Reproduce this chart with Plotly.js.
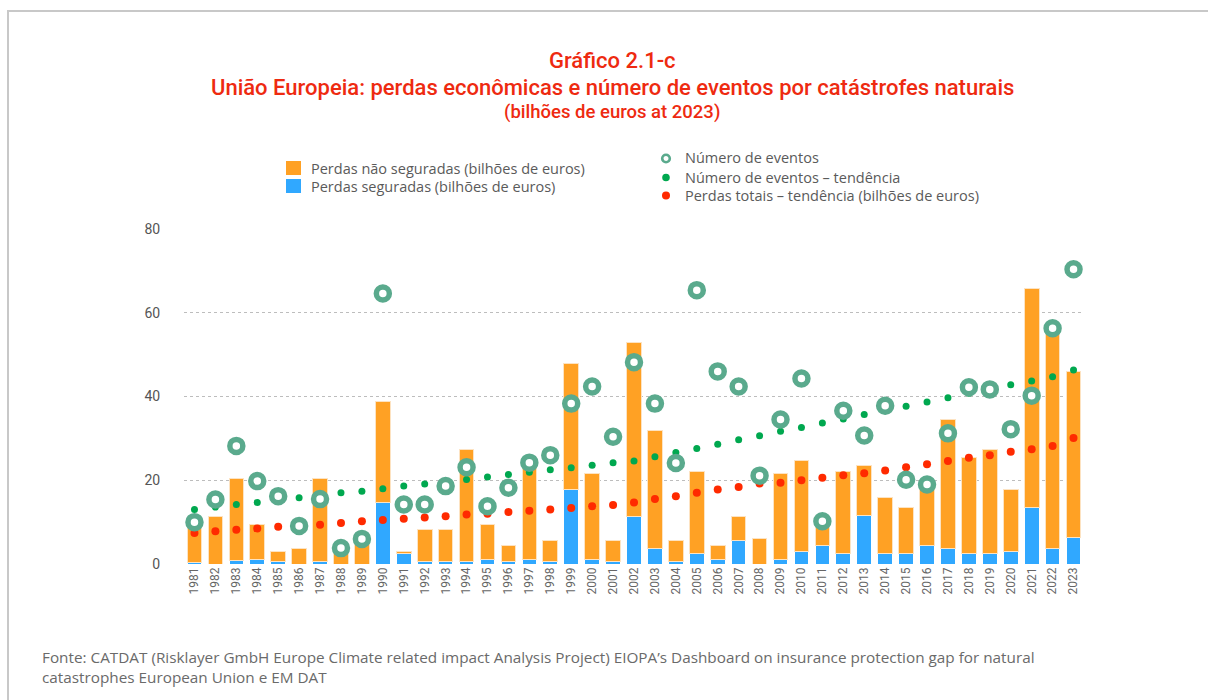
<!DOCTYPE html>
<html>
<head>
<meta charset="utf-8">
<script src="https://cdn.plot.ly/plotly-3.0.1.min.js"></script>
<style>
  html, body { margin: 0; padding: 0; background: #fff; }
  #frame { position: absolute; left: 7px; top: 10px; width: 1220px; height: 720px; border-left: 2px solid #c8c8c8; border-top: 2px solid #c8c8c8; pointer-events: none; }
  #chart { width: 1208px; height: 700px; }
</style>
</head>
<body>
<div id="chart"></div>
<div id="frame"></div>
<script>
const years = ['1981','1982','1983','1984','1985','1986','1987','1988','1989','1990',
  '1991','1992','1993','1994','1995','1996','1997','1998','1999','2000',
  '2001','2002','2003','2004','2005','2006','2007','2008','2009','2010',
  '2011','2012','2013','2014','2015','2016','2017','2018','2019','2020',
  '2021','2022','2023'];

const insured = [0.3,0,0.8,1.1,0.7,0,0.7,0,0,14.6,
  2.5,0.6,0.6,0.6,1.1,0.6,1.1,0.6,17.8,1.1,
  0.6,11.4,3.8,0.6,2.6,1.1,5.7,0,1.1,3.0,
  4.4,2.6,11.5,2.6,2.6,4.4,3.8,2.6,2.6,3.1,
  13.4,3.8,6.3];

const uninsured = [9.2,11.4,19.5,8.4,2.3,3.7,19.6,2.5,5.6,24.3,
  0.5,7.6,7.6,26.8,8.3,3.8,21.9,5.0,30.0,20.4,
  5.0,41.6,28.0,5.0,19.6,3.2,5.7,6.2,20.5,21.8,
  4.6,19.6,12.0,13.3,10.8,14.0,30.6,22.8,24.8,14.7,
  52.4,51.7,39.7];

const events = [10,15.4,28.2,19.8,16.2,9.1,15.5,3.8,6,64.6,
  14.2,14.2,18.6,23.1,13.8,18.2,24.2,26,38.3,42.4,
  30.4,48.2,38.3,24.1,65.4,46,42.4,21.1,34.5,44.3,
  10.2,36.6,30.7,37.8,20.1,19,31.2,42.2,41.7,32.2,
  40.2,56.3,70.4];

const eventsTrend = [13,13.6,14.2,14.7,15.2,15.8,16.4,17,17.4,18,
  18.6,19.1,19.7,20.2,20.8,21.4,21.9,22.5,23,23.6,
  24.2,24.6,25.6,26.6,27.6,28.6,29.7,30.6,31.7,32.6,
  33.7,34.6,35.7,36.6,37.7,38.7,39.7,40.8,41.8,42.8,
  43.7,44.7,46.3];

const lossTrend = [7.4,7.8,8.2,8.5,8.9,9.3,9.4,9.8,10.2,10.5,
  10.8,11.1,11.4,11.8,12,12.4,12.7,13,13.4,13.8,
  14.1,14.7,15.5,16.2,17,17.8,18.4,19.2,19.4,20,
  20.6,21.2,21.7,22.3,23.1,23.8,24.6,25.4,26,26.8,
  27.4,28.2,30.1];

const yTicks = [0,20,40,60,80];

const seriesNames = {
  uninsured: 'Perdas não seguradas (bilhões de euros)',
  insured: 'Perdas seguradas (bilhões de euros)',
  events: 'Número de eventos',
  eventsTrend: 'Número de eventos – tendência',
  lossTrend: 'Perdas totais – tendência (bilhões de euros)'
};

const FONT = 'Roboto, "DejaVu Sans", sans-serif';
const FONT2 = '"Open Sans", Roboto, sans-serif';
const RED = '#EE2A10';
const C_ORANGE = '#FFA124', C_BLUE = '#30A8FF', C_RING = '#5AAA8D', C_GREEN = '#00A84F', C_RED = '#FF2A00';

// plot area in pixels (for placing legend / notes in paper coords)
const M = {l:184, r:124, t:229, b:136};
const PW = 1208 - M.l - M.r, PH = 700 - M.t - M.b;
const px = v => (v - M.l) / PW;
const py = v => (700 - M.b - v) / PH;

const traces = [
  { type:'bar', x: years, y: insured, name: seriesNames.insured,
    marker:{color:C_BLUE, line:{color:'#ffffff', width:1}}, width:0.7 },
  { type:'bar', x: years, y: uninsured, name: seriesNames.uninsured,
    marker:{color:C_ORANGE, line:{color:'#FDE3C2', width:1}}, width:0.7 },
  { type:'scatter', mode:'markers', x: years, y: lossTrend, name: seriesNames.lossTrend,
    marker:{color:C_RED, size:8} },
  { type:'scatter', mode:'markers', x: years, y: eventsTrend, name: seriesNames.eventsTrend,
    marker:{color:C_GREEN, size:7} },
  { type:'scatter', mode:'markers', x: years, y: events, name: seriesNames.events,
    marker:{color:'#ffffff', size:13, line:{color:C_RING, width:5.5}} }
];

function legendText(text, x, y) {
  return {text:text, xref:'paper', yref:'paper', x:px(x), y:py(y), xanchor:'left', yanchor:'middle',
    showarrow:false, font:{family:FONT2, size:14.5, color:'#5a5a5a'}};
}
function legendRect(color, x0, x1, y0, y1) {
  return {type:'rect', xref:'paper', yref:'paper', x0:px(x0), x1:px(x1), y0:py(y1), y1:py(y0),
    fillcolor:color, line:{width:0}, layer:'above'};
}
function legendDot(cx, cy, r, fill, lineColor, lineWidth) {
  return {type:'circle', xref:'paper', yref:'paper', xsizemode:'pixel', ysizemode:'pixel',
    xanchor:px(cx), yanchor:py(cy), x0:-r, x1:r, y0:-r, y1:r,
    fillcolor:fill, line:{color:lineColor, width:lineWidth}, layer:'above'};
}

const layout = {
  width:1208, height:700,
  margin:M,
  paper_bgcolor:'#ffffff', plot_bgcolor:'#ffffff',
  font:{family:FONT, color:'#555555'},
  barmode:'stack',
  bargap:0.3,
  showlegend:false,
  xaxis:{type:'category', range:[-0.5, 42.5], tickangle:-90, showgrid:false, zeroline:false,
    showline:false, ticks:'', tickfont:{family:FONT, size:12, color:'#666666'}, fixedrange:true},
  yaxis:{range:[0,80], tickvals:yTicks, ticktext:yTicks.map(String), showgrid:true,
    gridcolor:'#bdbdbd', griddash:'dot', gridwidth:1.3, zeroline:false, showline:false,
    ticks:'outside', ticklen:20, tickcolor:'rgba(0,0,0,0)',
    tickfont:{family:FONT, size:14, color:'#555555'}, fixedrange:true},
  shapes:[
    legendRect(C_ORANGE, 286, 301, 161, 175),
    legendRect(C_BLUE, 286, 301, 179, 193),
    legendDot(666, 158.5, 3.8, '#ffffff', C_RING, 2.6),
    legendDot(666, 177.5, 3.8, C_GREEN, C_GREEN, 0),
    legendDot(666, 195.5, 4, C_RED, C_RED, 0)
  ],
  annotations:[
    {text:'Gráfico 2.1-c', xref:'paper', yref:'paper', x:0.4756, y:1.5015, xanchor:'center', yanchor:'middle',
      showarrow:false, font:{family:FONT, size:22, color:RED, weight:500}},
    {text:'União Europeia: perdas econômicas e número de eventos por catástrofes naturais', xref:'paper', yref:'paper',
      x:0.4756, y:1.421, xanchor:'center', yanchor:'middle', showarrow:false, font:{family:FONT, size:22, color:RED, weight:500}},
    {text:'(bilhões de euros at 2023)', xref:'paper', yref:'paper', x:0.4756, y:1.349, xanchor:'center', yanchor:'middle',
      showarrow:false, font:{family:FONT, size:18.5, color:RED, weight:500}},
    legendText(seriesNames.uninsured, 309, 168),
    legendText(seriesNames.insured, 309, 186.5),
    legendText(seriesNames.events, 683, 158),
    legendText(seriesNames.eventsTrend, 683, 177),
    legendText(seriesNames.lossTrend, 683, 195.5),
    {text:'Fonte: CATDAT (Risklayer GmbH Europe Climate related impact Analysis Project) EIOPA\u2019s Dashboard on insurance protection gap for natural<br>catastrophes European Union e EM DAT',
      xref:'paper', yref:'paper', x:px(40), y:py(645), xanchor:'left', yanchor:'top', align:'left',
      showarrow:false, font:{family:FONT2, size:15.3, color:'#6a6a6a'}}
  ]
};

Plotly.newPlot('chart', traces, layout, {displayModeBar:false, staticPlot:true});
</script>
</body>
</html>
